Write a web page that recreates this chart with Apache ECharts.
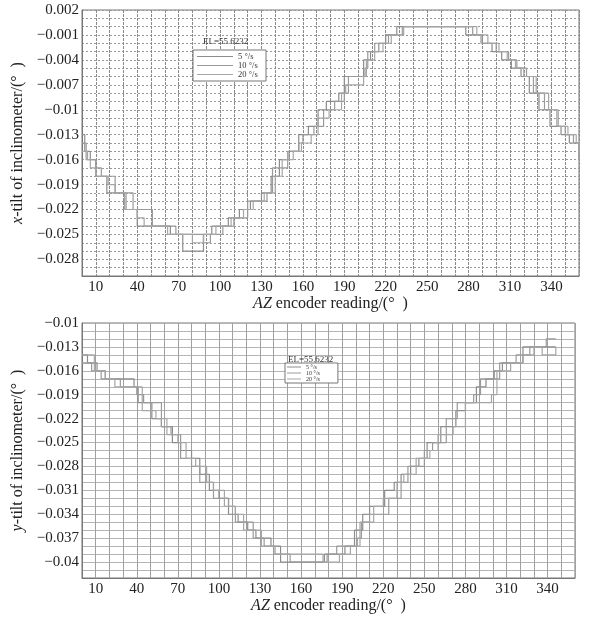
<!DOCTYPE html>
<html lang="en">
<head>
<meta charset="UTF-8">
<title>inclinometer tilt</title>
<style>
  html, body { margin: 0; padding: 0; background: #fff; }
  #box { width: 589px; height: 617px; }
</style>
</head>
<body>
<div id="box"></div>
<script src="https://cdn.jsdelivr.net/npm/echarts@6/dist/echarts.min.js"></script>
<script>
// legend names
var speeds = ['5 °/s', '10 °/s', '20 °/s'];
var elText = 'EL=55.6232';

// x-tilt, step change points [AZ, tilt]
var xTilt5 = [[0,-0.013],[2,-0.015],[6,-0.016],[10,-0.018],[18,-0.020],[31,-0.022],[40,-0.024],[64,-0.025],[73,-0.027],[88,-0.025],[94,-0.024],[106,-0.023],[114,-0.022],[122,-0.021],[130,-0.020],[137,-0.018],[143,-0.016],[150,-0.015],[157,-0.013],[164,-0.012],[171,-0.010],[177,-0.009],[186,-0.008],[190,-0.006],[204,-0.004],[209,-0.003],[215,-0.002],[220,-0.001],[228,0.000],[278,-0.001],[290,-0.002],[297,-0.003],[304,-0.004],[311,-0.005],[318,-0.006],[324,-0.008],[331,-0.010],[339,-0.012],[347,-0.013],[353,-0.014],[360,-0.016]];
var xTilt10 = [[0,-0.014],[3,-0.016],[10,-0.017],[14,-0.018],[24,-0.020],[37,-0.022],[51,-0.024],[68,-0.025],[88,-0.026],[93,-0.025],[102,-0.024],[110,-0.023],[120,-0.021],[134,-0.020],[138,-0.017],[149,-0.015],[157,-0.014],[160,-0.013],[168,-0.012],[175,-0.010],[183,-0.009],[190,-0.008],[193,-0.006],[205,-0.005],[207,-0.003],[212,-0.002],[222,-0.001],[232,0.000],[283,-0.001],[289,-0.002],[300,-0.003],[309,-0.004],[315,-0.005],[322,-0.006],[327,-0.008],[335,-0.010],[344,-0.012],[350,-0.013],[356,-0.014],[360,-0.015]];
var xTilt20 = [[0,-0.015],[4,-0.016],[6,-0.017],[10,-0.018],[19,-0.019],[24,-0.020],[32,-0.022],[40,-0.023],[45,-0.024],[62,-0.025],[80,-0.026],[88,-0.025],[97,-0.024],[108,-0.023],[117,-0.022],[124,-0.021],[132,-0.020],[140,-0.018],[145,-0.016],[153,-0.015],[159,-0.014],[166,-0.013],[171,-0.011],[179,-0.010],[188,-0.008],[191,-0.007],[204,-0.006],[206,-0.004],[212,-0.003],[218,-0.002],[224,-0.001],[233,0.000],[286,-0.001],[294,-0.002],[302,-0.003],[308,-0.004],[314,-0.005],[320,-0.006],[329,-0.008],[338,-0.010],[345,-0.012],[352,-0.013],[358,-0.014],[360,-0.016]];

// y-tilt
var yTilt5 = [[0,-0.014],[4,-0.015],[11,-0.016],[17,-0.017],[38,-0.018],[41,-0.020],[51,-0.022],[58,-0.023],[66,-0.025],[72,-0.026],[80,-0.027],[86,-0.029],[93,-0.031],[100,-0.032],[107,-0.034],[114,-0.035],[121,-0.036],[127,-0.037],[138,-0.038],[145,-0.040],[177,-0.039],[192,-0.038],[199,-0.036],[205,-0.034],[210,-0.033],[221,-0.031],[228,-0.030],[233,-0.029],[240,-0.028],[246,-0.027],[252,-0.025],[262,-0.023],[273,-0.021],[280,-0.020],[288,-0.018],[295,-0.017],[301,-0.016],[307,-0.015],[322,-0.013],[346,-0.013]];
var yTilt10 = [[0,-0.015],[7,-0.016],[14,-0.017],[28,-0.018],[40,-0.019],[45,-0.020],[58,-0.023],[65,-0.024],[72,-0.027],[80,-0.028],[86,-0.030],[96,-0.032],[107,-0.033],[112,-0.035],[125,-0.037],[133,-0.038],[140,-0.039],[152,-0.040],[179,-0.039],[186,-0.038],[201,-0.037],[204,-0.035],[210,-0.034],[224,-0.032],[233,-0.030],[238,-0.028],[250,-0.026],[256,-0.025],[266,-0.022],[274,-0.020],[286,-0.019],[291,-0.017],[305,-0.015],[317,-0.014],[327,-0.013],[339,-0.012],[346,-0.012]];
var yTilt20 = [[0,-0.014],[9,-0.016],[17,-0.017],[24,-0.018],[44,-0.021],[54,-0.022],[62,-0.024],[70,-0.025],[76,-0.027],[83,-0.028],[91,-0.030],[96,-0.031],[104,-0.033],[112,-0.034],[118,-0.036],[131,-0.038],[141,-0.039],[176,-0.040],[188,-0.039],[196,-0.038],[203,-0.035],[213,-0.033],[220,-0.032],[230,-0.030],[235,-0.029],[244,-0.027],[254,-0.026],[260,-0.024],[271,-0.023],[280,-0.020],[299,-0.019],[303,-0.016],[313,-0.015],[322,-0.014],[330,-0.013],[336,-0.014],[346,-0.013]];

var font = 'Liberation Serif';
var lineColors = ['#8c8c8c', '#9a9a9a', '#a6a6a6'];

function tickText(v) {
    var k = Math.round(v * 1000);
    return (k < 0 ? '\u2212' : '') + (Math.abs(k) / 1000);
}

function xAxis(idx, gap, dashed) {
    return {
        type: 'value', gridIndex: idx, min: 0, max: 360, interval: 10,
        name: '{i|AZ} encoder reading/(°  )',
        nameLocation: 'middle', nameGap: gap,
        nameTextStyle: { color: '#222', fontFamily: font, fontSize: 16,
            rich: { i: { fontStyle: 'italic', fontFamily: font, fontSize: 16, color: '#222' } } },
        axisLine: { onZero: false, lineStyle: { color: '#777' } },
        axisTick: { show: false },
        axisLabel: { color: '#222', fontFamily: font, fontSize: 15, margin: 4,
            formatter: function (v) { return (v - 10) % 30 === 0 ? v : ''; } },
        splitLine: { lineStyle: { color: dashed ? '#8a8a8a' : '#a0a0a0', type: dashed ? [3, 1] : 'solid', width: 1 } }
    };
}

function yAxis(idx, min, max, top, dotted, label) {
    return {
        type: 'value', gridIndex: idx, min: min, max: max, interval: 0.001,
        name: '{i|' + label + '}-tilt of inclinometer/(°  )',
        nameLocation: 'middle', nameGap: 56,
        nameTextStyle: { color: '#222', fontFamily: font, fontSize: 16,
            rich: { i: { fontStyle: 'italic', fontFamily: font, fontSize: 16, color: '#222' } } },
        axisLine: { show: true, onZero: false, lineStyle: { color: '#777' } },
        axisTick: { show: false },
        axisLabel: { color: '#222', fontFamily: font, fontSize: 15, margin: 3,
            formatter: function (v) {
                var k = Math.round(v * 1000);
                return (top - k) % 3 === 0 ? tickText(v) : '';
            } },
        splitLine: { lineStyle: { color: dotted ? '#9a9a9a' : '#b4b4b4', type: dotted ? [2, 2] : 'solid', width: 1 } }
    };
}

function line(name, data, idx, c) {
    return {
        name: name, type: 'line', step: 'end', data: data,
        xAxisIndex: idx, yAxisIndex: idx,
        showSymbol: false, symbol: 'none',
        lineStyle: { color: c, width: 1.2 }, itemStyle: { color: c },
        animation: false
    };
}

var chart = echarts.init(document.getElementById('box'));
var option = {
    backgroundColor: '#fff',
    animation: false,
    title: [
        { text: elText, left: 198, top: 32, textStyle: { fontFamily: font, fontSize: 9, fontWeight: 'normal', color: '#333' } },
        { text: elText, left: 283, top: 350, textStyle: { fontFamily: font, fontSize: 9, fontWeight: 'normal', color: '#333' } }
    ],
    legend: [
        { data: speeds, orient: 'vertical', left: 193, top: 50, icon: 'rect', itemWidth: 36, itemHeight: 1, itemGap: 0,
          padding: [2, 4, 2, 4], borderColor: '#777', borderWidth: 1, backgroundColor: '#fff',
          textStyle: { fontFamily: font, fontSize: 8.5, color: '#333', lineHeight: 8, width: 24, align: 'right' } },
        { data: speeds, orient: 'vertical', left: 285, top: 363, icon: 'rect', itemWidth: 14, itemHeight: 1, itemGap: 0,
          padding: [1, 18, 1, 2], borderColor: '#777', borderWidth: 1, backgroundColor: '#fff',
          textStyle: { fontFamily: font, fontSize: 6, color: '#333', lineHeight: 6 } }
    ],
    grid: [
        { left: 82, top: 10, width: 497, height: 266, show: true, borderColor: '#777', borderWidth: 1 },
        { left: 82, top: 323, width: 493, height: 255, show: true, borderColor: '#777', borderWidth: 1 }
    ],
    xAxis: [xAxis(0, 20, true), xAxis(1, 17, false)],
    yAxis: [yAxis(0, -0.030, 0.002, 2, true, 'x'), yAxis(1, -0.042, -0.010, -10, false, 'y')],
    series: [
        line(speeds[0], xTilt5, 0, lineColors[0]),
        line(speeds[1], xTilt10, 0, lineColors[1]),
        line(speeds[2], xTilt20, 0, lineColors[2]),
        line(speeds[0], yTilt5, 1, lineColors[0]),
        line(speeds[1], yTilt10, 1, lineColors[1]),
        line(speeds[2], yTilt20, 1, lineColors[2])
    ]
};
option && chart.setOption(option);
</script>
</body>
</html>
